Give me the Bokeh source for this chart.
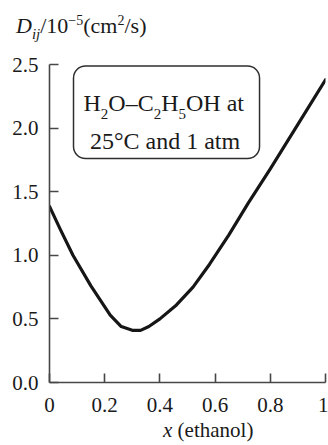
from bokeh.plotting import figure
from bokeh.layouts import column
from bokeh.models import Label, BoxAnnotation, FixedTicker, Range1d, Div
from bokeh.embed import file_html
from bokeh.resources import INLINE

FONT = "Liberation Serif"

# ---- data ----
x_ethanol = [0.0, 0.04, 0.085, 0.15, 0.22, 0.26, 0.30, 0.33, 0.36, 0.40,
             0.46, 0.52, 0.58, 0.65, 0.72, 0.80, 0.90, 1.0]
d_ij = [1.385, 1.20, 1.00, 0.76, 0.53, 0.44, 0.41, 0.41, 0.44, 0.50,
        0.61, 0.75, 0.93, 1.16, 1.41, 1.68, 2.03, 2.38]

x_ticks = [0, 0.2, 0.4, 0.6, 0.8, 1]
x_tick_labels = ["0", "0.2", "0.4", "0.6", "0.8", "1"]
y_ticks = [0, 0.5, 1.0, 1.5, 2.0, 2.5]
y_tick_labels = ["0.0", "0.5", "1.0", "1.5", "2.0", "2.5"]

# ---- layout constants (page pixels) ----
PAGE_W = 328
HEAD_H = 45          # strip above the plot for the y title
MAIN_H = 377         # plot figure height
FOOT_H = 23          # strip below the plot for the x title
X0, Y0 = 49, 382     # page position of data (0, 0)
AX_COLOR = "#474747"
TXT = "#1a1a1a"

# Times / Liberation Serif advance widths (per 1000 em)
W = {"H": 722, "O": 722, "C": 667, "–": 500, " ": 250, "a": 444, "t": 278}


def width(text, size):
    return sum(W.get(ch, 500) for ch in text) * size / 1000.0


# ---------------- header: y-axis title (HTML text) ----------------
sub = 'style="position:relative;top:6px;font-size:15px;font-style:italic"'
sup = 'style="position:relative;top:-8px;font-size:14px"'
head = Div(
    text=(f'<div style="padding:13px 0 0 16px;font-family:\'{FONT}\';'
          f'font-size:22px;line-height:26px;color:{TXT};white-space:nowrap">'
          f'<i>D</i><span {sub}>ij</span>/10<span {sup}>−5</span>'
          f'(cm<span {sup}>2</span>/s)</div>'),
    width=PAGE_W, height=HEAD_H, margin=(0, 0, 0, 0))

# ---------------- main plot ----------------
p = figure(width=PAGE_W, height=MAIN_H,
           x_range=Range1d(0, 1), y_range=Range1d(0, 2.5),
           output_backend="svg", toolbar_location=None,
           title_location=None,
           min_border_left=X0, min_border_right=3,
           min_border_top=64 - HEAD_H,
           min_border_bottom=HEAD_H + MAIN_H - Y0)
p.outline_line_color = None
p.xgrid.visible = False
p.ygrid.visible = False
p.background_fill_color = "white"
p.border_fill_color = "white"

p.line(x_ethanol, d_ij, line_width=3.2, line_color="#161616",
       line_join="round", line_cap="round")

for ax in (p.xaxis[0], p.yaxis[0]):
    ax.axis_line_color = AX_COLOR
    ax.axis_line_width = 1.6
    ax.major_tick_line_color = AX_COLOR
    ax.major_tick_line_width = 1.6
    ax.major_tick_in = 9
    ax.major_tick_out = 0
    ax.minor_tick_in = 0
    ax.minor_tick_out = 0
    ax.major_label_text_font = FONT
    ax.major_label_text_font_size = "21px"
    ax.major_label_text_color = TXT

p.xaxis.ticker = FixedTicker(ticks=x_ticks)
p.xaxis.major_label_overrides = {t: s for t, s in zip(x_ticks, x_tick_labels)}
p.xaxis.major_label_standoff = 15
p.yaxis.ticker = FixedTicker(ticks=y_ticks)
p.yaxis.major_label_overrides = {t: s for t, s in zip(y_ticks, y_tick_labels)}
p.yaxis.major_label_standoff = 11

# rounded box with the system description
p.add_layout(BoxAnnotation(left=0.087, right=0.761, bottom=1.761, top=2.488,
                           fill_color=None, fill_alpha=0,
                           line_color="#2e2e2e", line_alpha=1.0,
                           line_width=1.5, border_radius=12))


def label(text, px, py, size, align="left"):
    p.add_layout(Label(x=0, y=0, x_offset=px - X0, y_offset=Y0 - py,
                       text=text, text_font=FONT,
                       text_font_size=f"{size}px",
                       text_color=TXT, text_align=align,
                       text_baseline="alphabetic"))


def runs(pieces, px, py):
    for text, size, dy in pieces:
        label(text, px, py + dy, size)
        px += width(text, size)


runs([("H", 24, 0), ("2", 15, 11), ("O–C", 24, 0), ("2", 15, 11),
      ("H", 24, 0), ("5", 15, 11), ("OH at", 24, 0)], 83, 102)
label("25°C and 1 atm", 164.5, 140, 24, align="center")

# ---------------- footer: x-axis title (HTML text) ----------------
foot = Div(
    text=(f'<div style="padding:0 0 0 163px;font-family:\'{FONT}\';'
          f'font-size:21px;line-height:16px;color:{TXT};white-space:nowrap">'
          f'<i>x</i> (ethanol)</div>'),
    width=PAGE_W, height=FOOT_H, margin=(0, 0, 0, 0))

layout = column(head, p, foot, spacing=0)
open("out.html", "w").write(file_html(layout, INLINE))
